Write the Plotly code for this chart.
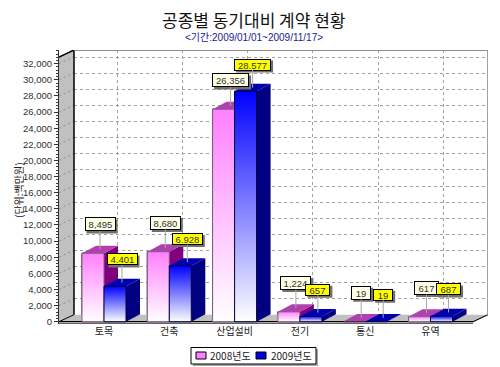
import plotly.graph_objects as go

categories = ["토목", "건축", "산업설비", "전기", "통신", "유역"]
values_2008 = [8495, 8680, 26356, 1224, 19, 617]
values_2009 = [4401, 6928, 28577, 657, 19, 687]
series_names = ["2008년도", "2009년도"]
y_ticks = list(range(0, 32001, 2000))
title_text = "공종별 동기대비 계약 현황"
subtitle_text = "&lt;기간:2009/01/01~2009/11/17&gt;"
y_title = "(단위:백만원)"

W, H = 500, 367
ML, MR, MT, MB = 40, 2, 30, 40
KR = "Noto Sans CJK KR"
LAT = "Liberation Sans"
GRID = "#a0a0a0"
PX_CAT = 65.3
PX_VAL = 258 / 32000
DX_CAT = 14 / PX_CAT
DY_VAL = 7.5 / PX_VAL
BAR_W = 22 / PX_CAT
WALL_DX = 15 / PX_CAT
WALL_DY = 7 / PX_VAL


def px(v):
    return (v - ML) / (W - ML - MR)


def py(v):
    return (H - MB - v) / (H - MB - MT)


# front axes: pixel 59..488 horizontally, 324.4..50 vertically
x_lo = (59 - 104) / PX_CAT
x_hi = (488 - 104) / PX_CAT
x_floor_hi = (473 - 104) / PX_CAT
y_lo = -(324.4 - 321.7) / PX_VAL
y_hi = (321.7 - 50) / PX_VAL
y_wall_top = (321.7 - 57) / PX_VAL

fig = go.Figure()


def poly(xs, ys, fill=None, line="rgba(0,0,0,0)", width=0, grad=None):
    kw = dict(fillcolor=fill) if fill else dict(fillgradient=grad)
    fig.add_trace(go.Scatter(x=xs, y=ys, mode="lines", fill="toself", xaxis="x2", yaxis="y2",
                             line=dict(color=line, width=width), showlegend=False,
                             hoverinfo="skip", **kw))


def lines(xs, ys, color, width=1, dash="solid"):
    fig.add_trace(go.Scatter(x=xs, y=ys, mode="lines", xaxis="x2", yaxis="y2", showlegend=False,
                             line=dict(color=color, width=width, dash=dash), hoverinfo="skip"))


# keep the back-wall axes alive
fig.add_trace(go.Scatter(x=[0], y=[0], mode="markers", marker=dict(opacity=0), showlegend=False,
                         hoverinfo="skip", xaxis="x", yaxis="y"))

# real bars (front faces)
fig.add_trace(go.Bar(x=list(range(6)), y=values_2008, name=series_names[0], xaxis="x2", yaxis="y2",
                     width=BAR_W, offset=-BAR_W, showlegend=False,
                     marker=dict(color="#ff80ff", line=dict(color="#000000", width=1))))
fig.add_trace(go.Bar(x=list(range(6)), y=values_2009, name=series_names[1], xaxis="x2", yaxis="y2",
                     width=BAR_W, offset=0, showlegend=False,
                     marker=dict(color="#0000e0", line=dict(color="#000000", width=1))))

# left wall and floor
poly([x_lo, x_lo + WALL_DX, x_lo + WALL_DX, x_lo, x_lo],
     [0, WALL_DY, y_hi, y_wall_top, 0], fill="#c0c0c0")
poly([x_lo, x_lo + WALL_DX, x_hi, x_floor_hi, x_lo],
     [0, WALL_DY, WALL_DY, 0, 0], fill="#c0c0c0")

# dashed guides on the wall
gx, gy = [], []
for t in y_ticks[1:]:
    gx += [x_lo, x_lo + WALL_DX, None]
    gy += [t, t + WALL_DY, None]
lines(gx, gy, "#8c8c8c", 1, "2px,3px")

# wall outlines
lines([x_lo + WALL_DX, x_lo + WALL_DX], [WALL_DY, y_hi], "#000000", 1.5)
lines([x_lo, x_lo + WALL_DX], [y_wall_top, y_hi], "#000000", 1.5)
lines([x_lo + WALL_DX, x_lo], [WALL_DY, 0], "#000000", 1)
lines([x_lo, x_floor_hi, x_hi], [0, 0, WALL_DY], "#000000", 1.2)
lines([x_lo + WALL_DX, x_hi - 0.004, x_hi - 0.004], [y_hi - 0.5 / PX_VAL, y_hi - 0.5 / PX_VAL, WALL_DY],
      "#909090", 1.2)
lines([x_lo, x_floor_hi], [y_lo * 0.6, y_lo * 0.6], "#404040", 1)

# 3D faces + gradients
PINK = dict(top="#b040b0", side="#800080", grad="#ff80ff", edge="#806080")
BLUE = dict(top="#0000b0", side="#000080", grad="#0000ff", edge="#000040")
for i in range(6):
    for vals, x0, c in ((values_2008, i - BAR_W, PINK), (values_2009, i, BLUE)):
        v = vals[i]
        x1 = x0 + BAR_W
        poly([x1, x1 + DX_CAT, x1 + DX_CAT, x1, x1], [0, DY_VAL, v + DY_VAL, v, 0], fill=c["side"])
        poly([x0, x0 + DX_CAT, x1 + DX_CAT, x1, x0], [v, v + DY_VAL, v + DY_VAL, v, v], fill=c["top"])
        if v > 100:
            poly([x0, x1, x1, x0, x0], [0, 0, v, v, 0], line=c["edge"], width=1,
                 grad=dict(type="vertical", colorscale=[[0, "#ffffff"], [1, c["grad"]]]))

shapes = []
annotations = []
for i in range(6):
    for vals, x0, bg, rise, h in ((values_2008, i - BAR_W, "#ffffe8", 25, 14), (values_2009, i, "#ffff00", 23, 12)):
        v = vals[i]
        cx = x0 + BAR_W / 2 + DX_CAT / 2
        cy = v + DY_VAL / 2
        label = f"{v:,}"
        w = {6: 37, 5: 31, 3: 25, 2: 20}[len(label)]
        annotations.append(dict(x=cx, y=cy, xref="x2", yref="y2", text=label, showarrow=True, arrowhead=0,
                                arrowcolor="#a8a8a8", arrowwidth=1, ax=0, ay=-rise,
                                bgcolor=bg, bordercolor="#000000", borderwidth=1, borderpad=1,
                                width=w - 4, height=h - 4,
                                font=dict(family=LAT, size=9.5, color="#303030")))
        shapes.append(dict(type="rect", xref="x2", yref="y2", xsizemode="pixel", ysizemode="pixel",
                           xanchor=cx, yanchor=cy, x0=-w / 2 + 2, x1=w / 2 + 2,
                           y0=rise - h / 2 - 2, y1=rise + h / 2 - 2,
                           fillcolor="#707070", line_width=0))

annotations.append(dict(x=px(253), y=py(20), xref="paper", yref="paper", text=title_text, showarrow=False,
                        xanchor="center", yanchor="middle",
                        font=dict(family=KR, size=17, color="#111111")))
annotations.append(dict(x=px(254), y=py(37), xref="paper", yref="paper", text=subtitle_text, showarrow=False,
                        xanchor="center", yanchor="middle",
                        font=dict(family=LAT + ", " + KR, size=10, color="#202090")))
annotations.append(dict(x=px(18), y=py(190), xref="paper", yref="paper", text=y_title, showarrow=False,
                        xanchor="center", yanchor="middle",
                        textangle=-90, font=dict(family=KR, size=10, color="#222222")))

# legend box
shapes.append(dict(type="rect", xref="paper", yref="paper", x0=px(193), x1=px(318), y0=py(349), y1=py(366),
                   fillcolor="#a8a8a8", line_width=0))
shapes.append(dict(type="rect", xref="paper", yref="paper", x0=px(191), x1=px(316), y0=py(347.5), y1=py(364),
                   fillcolor="#ffffff", line=dict(color="#000000", width=1)))
for name, color, sx, tx in zip(series_names, ["#ff80ff", "#0000e0"], [196, 256], [208, 269]):
    shapes.append(dict(type="rect", xref="paper", yref="paper", x0=px(sx), x1=px(sx + 10),
                       y0=py(352), y1=py(359), fillcolor=color, line=dict(color="#000000", width=1)))
    annotations.append(dict(x=px(tx), y=py(355.5), xref="paper", yref="paper", text=name, showarrow=False,
                            xanchor="left", yanchor="middle", xshift=0,
                            font=dict(family=KR, size=10, color="#222222")))

fig.update_layout(
    width=W, height=H, margin=dict(l=ML, r=MR, t=MT, b=MB, pad=0), autosize=False,
    paper_bgcolor="#ffffff", plot_bgcolor="rgba(0,0,0,0)", showlegend=False,
    barmode="overlay", shapes=shapes, annotations=annotations, hovermode=False,
    xaxis=dict(domain=[px(74), px(488)], range=[(74 - 117) / PX_CAT, (488 - 117) / PX_CAT],
               tickvals=list(range(6)), showticklabels=False, ticks="", showgrid=True,
               gridcolor=GRID, griddash="3px,3px", gridwidth=1, zeroline=False, anchor="y",
               showline=False),
    yaxis=dict(domain=[py(315), py(50)], range=[0, 265 / PX_VAL], tickvals=y_ticks[1:], showticklabels=False,
               ticks="", showgrid=True, gridcolor=GRID, griddash="3px,3px", gridwidth=1,
               zeroline=False, anchor="x", showline=False),
    xaxis2=dict(domain=[px(59), px(488)], range=[x_lo, x_hi], tickvals=list(range(6)), ticktext=categories,
                ticks="", showgrid=False, zeroline=False, anchor="y2", showline=False,
                tickfont=dict(family=KR, size=10, color="#222222")),
    yaxis2=dict(domain=[py(324.4), py(50)], range=[y_lo, y_hi], tickvals=y_ticks, tickformat=",d",
                ticks="outside", ticklen=4, tickcolor="#303030", showgrid=False, zeroline=False,
                anchor="x2", showline=True, linecolor="#303030", linewidth=1,
                tickfont=dict(family=LAT, size=9.5, color="#303030"),
                minor=dict(dtick=400, ticks="outside", ticklen=2, tickcolor="#404040")),
)

fig.write_html("out.html", config={"displayModeBar": False}, post_script="document.body.style.margin='0';")
